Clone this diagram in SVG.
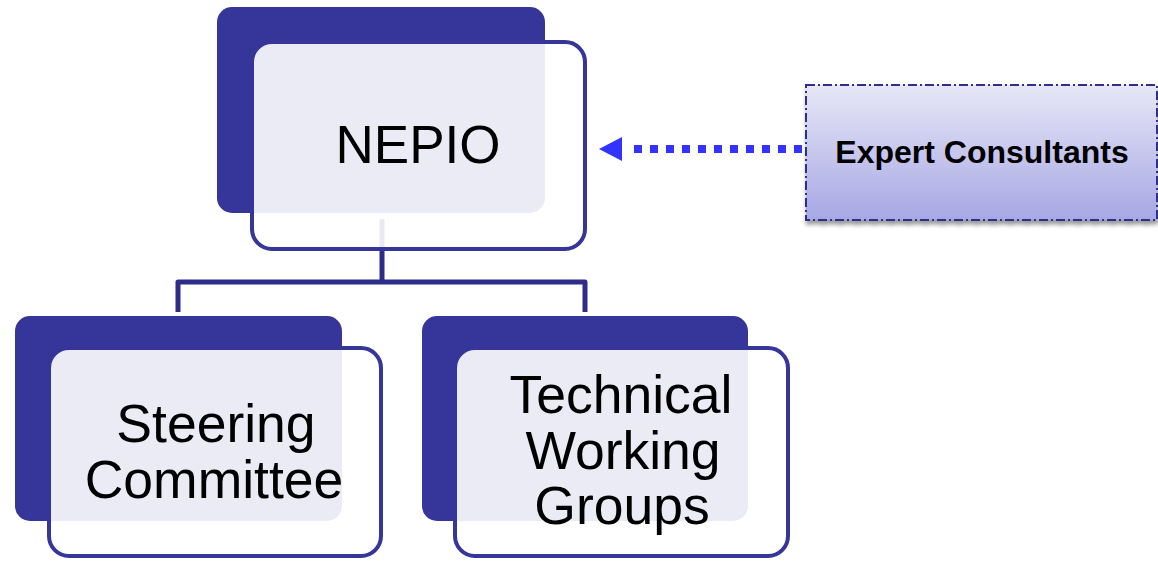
<svg xmlns="http://www.w3.org/2000/svg" width="1158" height="561" viewBox="0 0 1158 561">
  <defs>
    <linearGradient id="expGrad" x1="0" y1="0" x2="0" y2="1">
      <stop offset="0" stop-color="#E7E7F7"/>
      <stop offset="1" stop-color="#A7A7E4"/>
    </linearGradient>
    <filter id="shadow" x="-10%" y="-10%" width="120%" height="130%">
      <feGaussianBlur in="SourceAlpha" stdDeviation="2"/>
      <feOffset dx="1" dy="4" result="b"/>
      <feComponentTransfer><feFuncA type="linear" slope="0.4"/></feComponentTransfer>
      <feMerge><feMergeNode/><feMergeNode in="SourceGraphic"/></feMerge>
    </filter>
  </defs>
  <style>
    .back { fill: #35359A; }
    .front { fill: #FFFFFF; fill-opacity: 0.9; stroke: #35359A; stroke-width: 4; }
    .lbl { font-family: "Liberation Sans", Arial, sans-serif; fill: #000; text-anchor: middle; }
    .conn { fill: none; stroke: #2D2D88; stroke-width: 5; stroke-linejoin: round; }
    .arrow { fill: none; stroke: #3333FF; stroke-width: 8; stroke-dasharray: 8 8; }
    .exp { fill: url(#expGrad); stroke: #2E2E8E; stroke-width: 2; stroke-dasharray: 9 3 2 3; }
  </style>

  <g id="connectors">
    <path class="conn" d="M382,219 V282 M178,312 V282 H585 V312"/>
    <line class="arrow" x1="802" y1="149" x2="634" y2="149"/>
    <polygon points="599,149 622,137 622,161" fill="#3333FF"/>
  </g>

  <g id="nepio">
    <rect class="back" x="217" y="7" width="328" height="206" rx="15"/>
    <rect class="front" x="252" y="42" width="333" height="207" rx="20"/>
    <text class="lbl" x="418" y="163" font-size="53">NEPIO</text>
  </g>

  <g id="steering">
    <rect class="back" x="15" y="316" width="327" height="205" rx="15"/>
    <rect class="front" x="49" y="348" width="332" height="208" rx="20"/>
    <text class="lbl" font-size="53.5"><tspan x="216" y="442">Steering</tspan><tspan x="214" y="498">Committee</tspan></text>
  </g>

  <g id="twg">
    <rect class="back" x="422" y="316" width="326" height="205" rx="15"/>
    <rect class="front" x="455" y="348" width="333" height="208" rx="20"/>
    <text class="lbl" font-size="53.5"><tspan x="621" y="413">Technical</tspan><tspan x="623" y="469">Working</tspan><tspan x="622" y="524">Groups</tspan></text>
  </g>

  <g id="expert">
    <rect class="exp" x="806" y="85" width="351" height="135" filter="url(#shadow)"/>
    <text class="lbl" x="982" y="163" font-size="32" font-weight="bold">Expert Consultants</text>
  </g>
</svg>
